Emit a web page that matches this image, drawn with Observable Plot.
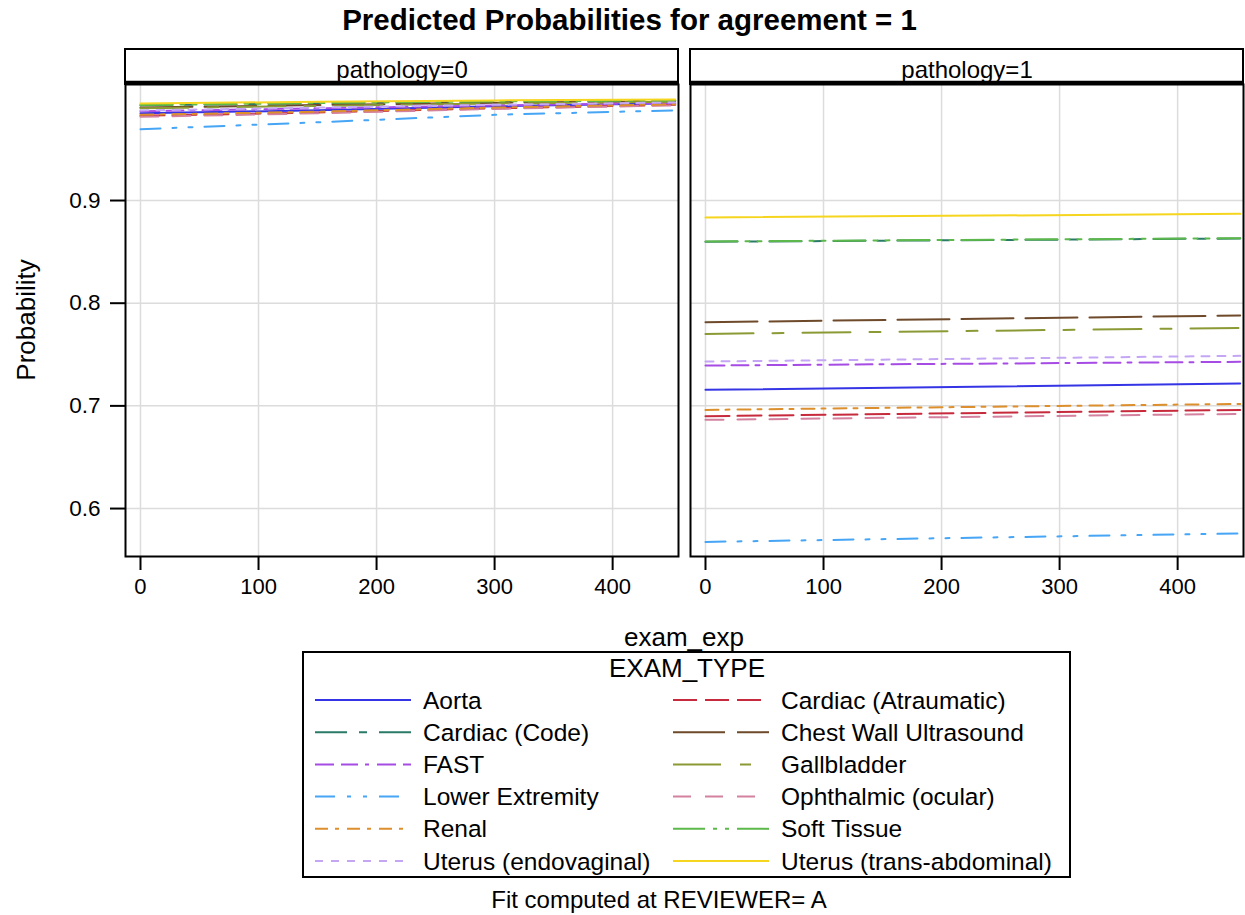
<!DOCTYPE html>
<html><head><meta charset="utf-8">
<script src="https://cdn.jsdelivr.net/npm/d3@7"></script>
<script src="https://cdn.jsdelivr.net/npm/@observablehq/plot@0.6"></script>
<style>
body{margin:0;background:#fff;font-family:"Liberation Sans",Arial,sans-serif;color:#000;}
#wrap{position:relative;width:1245px;height:915px;overflow:hidden;background:#fff;}
#title{position:absolute;left:14px;top:0;width:1231px;height:40px;line-height:40px;text-align:center;font-size:29.5px;font-weight:bold;}
#chart{position:absolute;left:0;top:38px;}
#xlabel{position:absolute;left:125px;width:1118px;top:622px;line-height:30px;text-align:center;font-size:26px;}
#ylabel{position:absolute;left:26px;top:320px;transform:translate(-50%,-50%) rotate(-90deg);white-space:nowrap;font-size:26px;line-height:30px;}
#legend{position:absolute;left:302px;top:651px;}
#foot{position:absolute;left:259px;width:800px;top:886px;line-height:28px;text-align:center;font-size:24px;}
</style></head><body>
<div id="wrap">
  <div id="title">Predicted Probabilities for agreement = 1</div>
  <div id="chart"></div>
  <div id="ylabel">Probability</div>
  <div id="xlabel">exam_exp</div>
  <div id="legend"></div>
  <div id="foot">Fit computed at REVIEWER= A</div>
</div>
<script>
// ---- data ----
const examTypes = ["Aorta","Cardiac (Atraumatic)","Cardiac (Code)","Chest Wall Ultrasound","FAST","Gallbladder","Lower Extremity","Ophthalmic (ocular)","Renal","Soft Tissue","Uterus (endovaginal)","Uterus (trans-abdominal)"];
const pathologies = [0, 1];
const panelTitles = ["pathology=0", "pathology=1"];
const xTicks = [0, 100, 200, 300, 400];
const yTicks = [0.6, 0.7, 0.8, 0.9];

// pathology = 0 : predicted probability at exam_exp values
const examExp0 = [0, 150, 300, 453];
const prob0At0   = [0.9850, 0.9825, 0.9928, 0.9905, 0.9870, 0.9898, 0.9695, 0.9815, 0.9835, 0.9930, 0.9877, 0.9945];
const prob0At150 = [0.9878, 0.9857, 0.9948, 0.9930, 0.9898, 0.9922, 0.9762, 0.9850, 0.9865, 0.9950, 0.9905, 0.9962];
const prob0At300 = [0.9918, 0.9898, 0.9963, 0.9952, 0.9926, 0.9945, 0.9835, 0.9892, 0.9905, 0.9965, 0.9932, 0.9975];
const prob0At453 = [0.9948, 0.9932, 0.9973, 0.9968, 0.9950, 0.9962, 0.9878, 0.9927, 0.9938, 0.9975, 0.9955, 0.9985];

// pathology = 1
const examExp1 = [0, 453];
const prob1At0   = [0.7156, 0.6899, 0.8598, 0.7815, 0.7393, 0.7701, 0.5675, 0.6864, 0.6961, 0.8601, 0.7432, 0.8835];
const prob1At453 = [0.7218, 0.6961, 0.8630, 0.7880, 0.7429, 0.7759, 0.5757, 0.6922, 0.7019, 0.8633, 0.7487, 0.8870];

// ---- styles ----
const lineColors = ["#3535E6","#C62A3C","#2A7A68","#6E4A2A","#A64CE4","#8C9A36","#46A5F5","#D4819F","#DC8F2C","#5CB84A","#C4A6F4","#F6D51E"];
const lineDashes = [null,"24,8","32,12,8,12","52,12","19,7,17,7,4,8","48,19,11,19","20,12,4,12,4,12","18,14","13,7,4,8","32,8,4,8,4,8","8,8",null];
const FONT = '"Liberation Sans", Arial, sans-serif';

// ---- table ----
const rows = [];
const cols0 = [prob0At0, prob0At150, prob0At300, prob0At453];
const cols1 = [prob1At0, prob1At453];
examTypes.forEach((t, i) => {
  examExp0.forEach((x, j) => rows.push({type: t, pathology: 0, exam: x, prob: cols0[j][i]}));
  examExp1.forEach((x, j) => rows.push({type: t, pathology: 1, exam: x, prob: cols1[j][i]}));
});

const lineMarks = examTypes.map((t, i) => Plot.line(rows.filter(r => r.type === t), {
  x: "exam", y: "prob", fx: "pathology",
  stroke: lineColors[i], strokeWidth: 2,
  strokeDasharray: lineDashes[i] || undefined
}));

const W = 1245, H = 612, mT = 46, mB = 94, mL = 125, mR = 2, headerH = 35;
const plot = Plot.plot({
  width: W, height: H,
  marginTop: mT, marginBottom: mB, marginLeft: mL, marginRight: mR,
  style: {fontFamily: FONT, fontSize: "22px", color: "#000", background: "white", overflow: "visible"},
  fx: {domain: pathologies, paddingInner: 12 / 565, paddingOuter: 0, round: false, axis: null},
  x: {domain: [-12.7, 455.8]},
  y: {domain: [0.5533, 1.0130]},
  marks: [
    Plot.gridX(xTicks, {stroke: "#dcdcdc", strokeOpacity: 1, strokeWidth: 1.5}),
    Plot.gridY(yTicks, {stroke: "#dcdcdc", strokeOpacity: 1, strokeWidth: 1.5}),
    ...lineMarks,
    Plot.frame({stroke: "#000", strokeWidth: 2}),
    Plot.axisX(xTicks, {tickSize: 14, tickPadding: 8, label: null, fontSize: 22, strokeWidth: 2}),
    Plot.axisY(yTicks, {tickSize: 15, tickPadding: 10, tickFormat: ".1f", label: null, fontSize: 22.5, strokeWidth: 2}),
    Plot.text(pathologies, {fx: d => d, text: (d, i) => panelTitles[i], frameAnchor: "top", lineAnchor: "middle",
      dy: -headerH / 2 + 3, fontSize: 24})
  ]
});
document.getElementById("chart").appendChild(plot);

// panel header strips
const fxs = plot.scale("fx");
const svg = d3.select(plot);
pathologies.forEach(d => {
  const x0 = fxs.apply(d), w = fxs.bandwidth;
  svg.append("rect").attr("x", x0).attr("y", mT - headerH).attr("width", w).attr("height", headerH)
    .attr("fill", "none").attr("stroke", "#000").attr("stroke-width", 2);
  svg.append("line").attr("x1", x0).attr("x2", x0 + w).attr("y1", mT - 1.5).attr("y2", mT - 1.5)
    .attr("stroke", "#000").attr("stroke-width", 3.5);
});

// legend
const LW = 767, LH = 225;
const lg = d3.select("#legend").append("svg").attr("width", LW + 4).attr("height", LH + 4)
  .style("font-family", FONT);
lg.append("rect").attr("x", 1).attr("y", 1).attr("width", LW).attr("height", LH)
  .attr("fill", "#fff").attr("stroke", "#000").attr("stroke-width", 2);
lg.append("text").attr("x", 385).attr("y", 17).attr("text-anchor", "middle")
  .attr("dominant-baseline", "central").attr("font-size", 26).text("EXAM_TYPE");
examTypes.forEach((t, i) => {
  const col = i % 2, row = Math.floor(i / 2);
  const y = 49 + row * 32.2;
  const x0 = col ? 371 : 13;
  const ln = lg.append("line").attr("x1", x0).attr("x2", x0 + 96).attr("y1", y).attr("y2", y)
    .attr("stroke", lineColors[i]).attr("stroke-width", 2);
  if (lineDashes[i]) ln.attr("stroke-dasharray", lineDashes[i]);
  lg.append("text").attr("x", x0 + 108).attr("y", y).attr("dominant-baseline", "central")
    .attr("font-size", 24.5).text(t);
});
</script>
</body></html>
